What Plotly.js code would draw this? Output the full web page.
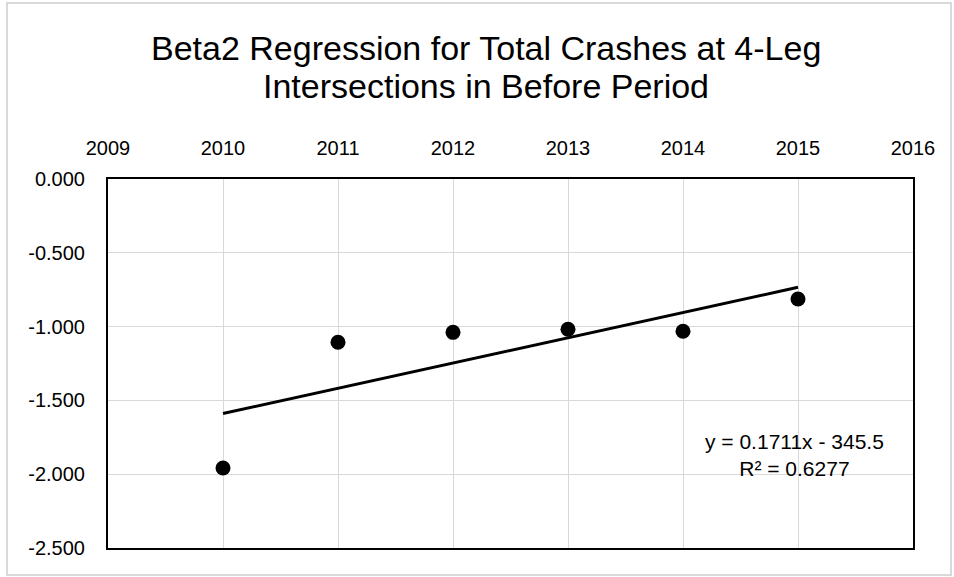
<!DOCTYPE html>
<html>
<head>
<meta charset="utf-8">
<script src="https://cdn.plot.ly/plotly-3.0.1.min.js"></script>
<style>html,body{margin:0;padding:0;background:#fff}#chart{width:954px;height:577px}</style>
</head>
<body>
<div id="chart"></div>
<script>
const years = [2010, 2011, 2012, 2013, 2014, 2015];
const beta2 = [-1.958, -1.106, -1.039, -1.018, -1.032, -0.813];
const trendSlope = 0.1711;
const trendIntercept = -345.5;
const rSquared = 0.6277;
const xTicks = [2009, 2010, 2011, 2012, 2013, 2014, 2015, 2016];
const yTicks = [0, -0.5, -1.0, -1.5, -2.0, -2.5];
const titleLines = ['Beta2 Regression for Total Crashes at 4-Leg', 'Intersections in Before Period'];

const trendX = [years[0], years[years.length - 1]];
const trendY = trendX.map(x => trendSlope * x + trendIntercept);

const W = 954, H = 577;
const m = {l: 108, r: 41, t: 179, b: 29};
const pw = W - m.l - m.r, ph = H - m.t - m.b;
const px = v => (v - m.l) / pw;
const py = v => (H - m.b - v) / ph;

const font = "Liberation Sans, Arial, sans-serif";

const data = [
  {x: trendX, y: trendY, mode: 'lines', type: 'scatter',
   line: {color: '#000', width: 3}, hoverinfo: 'skip', showlegend: false},
  {x: years, y: beta2, mode: 'markers', type: 'scatter',
   marker: {color: '#000', size: 15}, showlegend: false}
];

const layout = {
  width: W, height: H,
  margin: m,
  paper_bgcolor: '#fff', plot_bgcolor: '#fff',
  font: {family: font, color: '#000'},
  xaxis: {
    side: 'top', range: [2009, 2016], tickvals: xTicks,
    ticktext: xTicks.map(String),
    showgrid: true, gridcolor: '#d9d9d9', gridwidth: 1,
    showline: true, linecolor: '#000', linewidth: 2, mirror: true,
    zeroline: false, ticks: 'outside', ticklen: 14, tickcolor: 'rgba(0,0,0,0)',
    tickfont: {family: font, size: 20, color: '#000'}, fixedrange: true
  },
  yaxis: {
    range: [-2.5, 0], tickvals: yTicks,
    ticktext: yTicks.map(v => v.toFixed(3)),
    showgrid: true, gridcolor: '#d9d9d9', gridwidth: 1,
    showline: true, linecolor: '#000', linewidth: 2, mirror: true,
    zeroline: false, ticks: 'outside', ticklen: 17, tickcolor: 'rgba(0,0,0,0)',
    tickfont: {family: font, size: 20, color: '#000'}, fixedrange: true
  },
  annotations: [
    {xref: 'paper', yref: 'paper', x: px(486), y: py(48),
     xanchor: 'center', yanchor: 'middle', showarrow: false,
     text: titleLines[0], font: {family: font, size: 34, color: '#000'}},
    {xref: 'paper', yref: 'paper', x: px(486), y: py(86),
     xanchor: 'center', yanchor: 'middle', showarrow: false,
     text: titleLines[1], font: {family: font, size: 34, color: '#000'}},
    {xref: 'paper', yref: 'paper', x: px(794), y: py(455),
     xanchor: 'center', yanchor: 'middle', showarrow: false, align: 'center',
     text: 'y = ' + trendSlope + 'x - ' + Math.abs(trendIntercept) + '<br>R² = ' + rSquared,
     font: {family: font, size: 21, color: '#000'}}
  ],
  shapes: [{
    type: 'rect', xref: 'paper', yref: 'paper', layer: 'below',
    x0: px(7), x1: px(951), y0: py(575), y1: py(3),
    line: {color: '#d9d9d9', width: 2}, fillcolor: 'rgba(0,0,0,0)'
  }]
};

Plotly.newPlot('chart', data, layout, {displayModeBar: false, staticPlot: true});
</script>
</body>
</html>
